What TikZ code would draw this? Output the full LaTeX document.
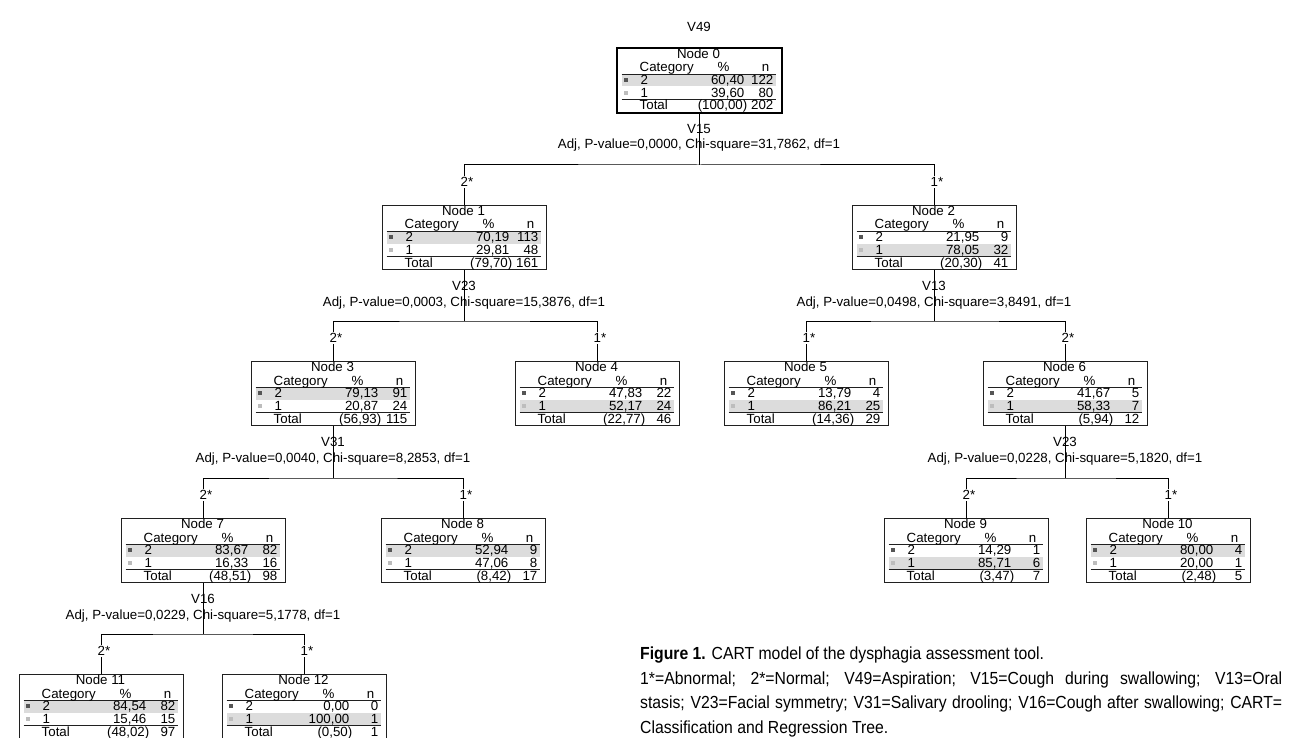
\documentclass[tikz,border=0pt]{standalone}
\usepackage{fontspec}
\setmainfont{Liberation Sans}
\newfontfamily\capfont[FakeStretch=0.9]{Liberation Sans}
\usepackage{tikz}
\usetikzlibrary{positioning,calc}
\definecolor{bandc}{HTML}{DCDCDC}
\definecolor{catdark}{HTML}{555555}
\definecolor{catlight}{HTML}{BDBDBD}
\definecolor{framec}{HTML}{202020}
\newcommand{\nodefont}{\fontsize{13.3}{14}\selectfont}
\tikzset{
  catbox/.style={draw=framec, line width=1pt, minimum width=164pt, minimum height=64pt, inner sep=0pt, anchor=north},
  cell/.style={inner sep=0pt, font=\nodefont},
  edge/.style={line width=1pt},
  branch/.style={fill=white, inner sep=1pt, font=\nodefont, anchor=west},
  splitlbl/.style={inner sep=0pt, font=\nodefont, anchor=base},
}
\newcommand{\treebox}[9]{%
  \node[catbox] (n#1) at (#2,#3) {};
  \begin{scope}[shift={(n#1.north west)}]
    \ifnum#5>#7\relax
      \fill[bandc] (5,26) rectangle (159,38.5);
    \else
      \fill[bandc] (5,38.5) rectangle (159,51);
    \fi
    \draw[framec, line width=0.8pt] (5,26) -- (159,26) (5,51) -- (159,51);
    \fill[catdark] (7,30) rectangle (11,34);
    \fill[catlight] (7,43) rectangle (11,47);
    \node[cell, anchor=base] at (82,10.5) {Node #1};
    \node[cell, anchor=base west] at (23,24) {Category};
    \node[cell, anchor=base] at (107,24) {\%};
    \node[cell, anchor=base] at (149,24) {n};
    \node[cell, anchor=base west] at (24,36.5) {2};
    \node[cell, anchor=base east] at (128,36.5) {#4};
    \node[cell, anchor=base east] at (157,36.5) {#5};
    \node[cell, anchor=base west] at (24,49.5) {1};
    \node[cell, anchor=base east] at (128,49.5) {#6};
    \node[cell, anchor=base east] at (157,49.5) {#7};
    \node[cell, anchor=base west] at (23,62) {Total};
    \node[cell, anchor=base east] at (131,62) {#8};
    \node[cell, anchor=base east] at (157,62) {#9};
  \end{scope}
}
\newcommand{\treesplit}[8]{%
  \coordinate (h#1) at ($(n#1.south |- n#2.north)+(0,-40)$);
  \draw[edge] (n#1.south) -- (h#1);
  \draw[edge] (n#2.north) |- (h#1) -| (n#3.north);
  \node[splitlbl] (v#1) at ($(n#1.south)+(0,20.5)$) {#4};
  \node[splitlbl] (a#1) at ($(n#1.south)+(0,36)$) {Adj, P-value=#5, Chi-square=#6, df=1};
  \node[branch] (b#2) at ($(n#2.north)+(-4.5,-23)$) {#7};
  \node[branch] (b#3) at ($(n#3.north)+(-4.5,-23)$) {#8};
}

\begin{document}
\begin{tikzpicture}[x=1pt, y=-1pt]
  \useasboundingbox (0,0) rectangle (1298,738);
  \node[splitlbl, anchor=center] (v49) at (699,27) {V49};
  \treebox{0}{699}{48}{60,40}{122}{39,60}{80}{(100,00)}{202}
  \draw[line width=2pt] (n0.north west) rectangle (n0.south east);
  \treebox{1}{464}{205}{70,19}{113}{29,81}{48}{(79,70)}{161}
  \treebox{2}{934}{205}{21,95}{9}{78,05}{32}{(20,30)}{41}
  \treebox{3}{333}{361}{79,13}{91}{20,87}{24}{(56,93)}{115}
  \treebox{4}{597}{361}{47,83}{22}{52,17}{24}{(22,77)}{46}
  \treebox{5}{806}{361}{13,79}{4}{86,21}{25}{(14,36)}{29}
  \treebox{6}{1065}{361}{41,67}{5}{58,33}{7}{(5,94)}{12}
  \treebox{7}{203}{518}{83,67}{82}{16,33}{16}{(48,51)}{98}
  \treebox{8}{463}{518}{52,94}{9}{47,06}{8}{(8,42)}{17}
  \treebox{9}{966}{518}{14,29}{1}{85,71}{6}{(3,47)}{7}
  \treebox{10}{1168}{518}{80,00}{4}{20,00}{1}{(2,48)}{5}
  \treebox{11}{101}{674}{84,54}{82}{15,46}{15}{(48,02)}{97}
  \treebox{12}{304}{674}{0,00}{0}{100,00}{1}{(0,50)}{1}
  \treesplit{0}{1}{2}{V15}{0,0000}{31,7862}{2*}{1*}
  \treesplit{1}{3}{4}{V23}{0,0003}{15,3876}{2*}{1*}
  \treesplit{2}{5}{6}{V13}{0,0498}{3,8491}{1*}{2*}
  \treesplit{3}{7}{8}{V31}{0,0040}{8,2853}{2*}{1*}
  \treesplit{6}{9}{10}{V23}{0,0228}{5,1820}{2*}{1*}
  \treesplit{7}{11}{12}{V16}{0,0229}{5,1778}{2*}{1*}
  \node[anchor=north west, inner sep=0pt, text width=642pt, align=justify,
        font=\capfont\fontsize{17.5}{24.5}\selectfont] (cap) at (640,647)
    {\textbf{Figure 1.} CART model of the dysphagia assessment tool.\\
     1*=Abnormal; 2*=Normal; V49=Aspiration; V15=Cough during swallowing; V13=Oral\linebreak
     stasis; V23=Facial symmetry; V31=Salivary drooling; V16=Cough after swallowing; CART=\linebreak
     Classification and Regression Tree.};
\end{tikzpicture}
\end{document}
